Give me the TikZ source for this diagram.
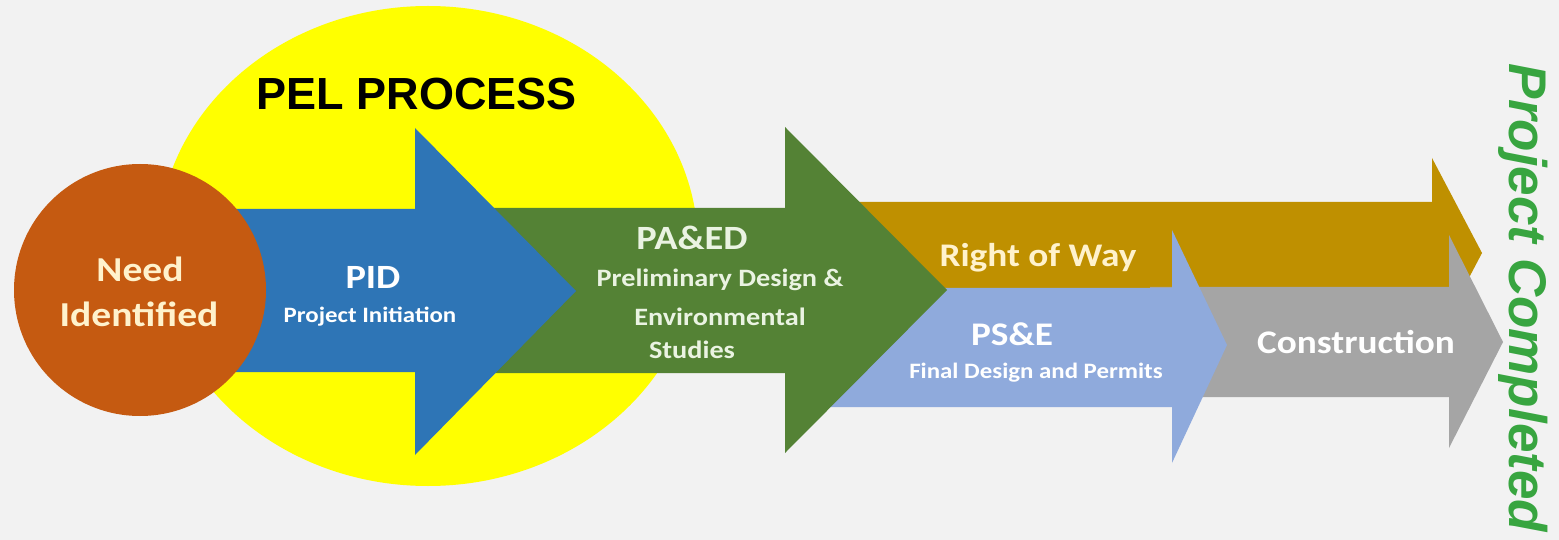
\documentclass[tikz,border=0pt]{standalone}
\usepackage{fontspec}
\newfontfamily\calfont[FakeStretch=1.13]{Carlito}
\newfontfamily\arlfont{Liberation Sans}
\definecolor{bg}{HTML}{F2F2F2}
\definecolor{yel}{HTML}{FFFF00}
\definecolor{org}{HTML}{C55A11}
\definecolor{blu}{HTML}{2E75B6}
\definecolor{grn}{HTML}{548235}
\definecolor{gld}{HTML}{BF9000}
\definecolor{ltblue}{HTML}{8FAADC}
\definecolor{gry}{HTML}{A5A5A5}
\definecolor{pcg}{HTML}{38A540}
\definecolor{cream}{HTML}{FFF2CC}
\definecolor{palegrn}{HTML}{EAF3E2}
\begin{document}
\begin{tikzpicture}[x=1pt,y=-1pt,
  txt/.style={anchor=base,inner sep=0pt,font=\calfont\bfseries}]
\fill[bg] (0,0) rectangle (1559,540);
\useasboundingbox (0,0) rectangle (1559,540);
% yellow PEL ellipse
\fill[yel] (428,246) ellipse [x radius=270, y radius=240];
% arrows (back to front)
\fill[gld] (840,202) -- (1432,202) -- (1432,158) -- (1482,253) -- (1432,348) -- (1432,304) -- (840,304) -- cycle;
\fill[gry] (1150,287) -- (1449,287) -- (1449,235) -- (1503,342) -- (1449,448) -- (1449,397) -- (1150,397) -- cycle;
\fill[ltblue] (820,288) -- (1172,288) -- (1172,230) -- (1227,345) -- (1172,463) -- (1172,407) -- (820,407) -- cycle;
\fill[grn] (480,208) -- (785,208) -- (785,127) -- (947,290) -- (785,453) -- (785,373) -- (480,373) -- cycle;
\fill[blu] (230,209) -- (415,209) -- (415,128) -- (576,291) -- (415,455) -- (415,372) -- (230,372) -- cycle;
\fill[org] (140,290) circle [radius=126];
% texts
\node[anchor=base,inner sep=0pt,font=\arlfont\bfseries\fontsize{45}{45}\selectfont] (pel) at (417,110) {PEL PROCESS};
\node[txt,text=cream,font=\calfont\bfseries\fontsize{35}{35}\selectfont] (need) at (140,281) {Need};
\node[txt,text=cream,font=\calfont\bfseries\fontsize{35}{35}\selectfont] (ident) at (139,326) {Identified};
\node[txt,text=white,font=\calfont\bfseries\fontsize{34}{34}\selectfont] (pid) at (373,288) {PID};
\node[txt,text=white,font=\calfont\bfseries\fontsize{22}{22}\selectfont] (pidsub) at (370,322) {Project Initiation};
\node[txt,text=palegrn,font=\calfont\bfseries\fontsize{34}{34}\selectfont] (paed) at (692,250) {PA\&ED};
\node[txt,text=palegrn,font=\calfont\bfseries\fontsize{25}{25}\selectfont] (paed1) at (720,287) {Preliminary Design \&};
\node[txt,text=palegrn,font=\calfont\bfseries\fontsize{25}{25}\selectfont] (paed2) at (720,325) {Environmental};
\node[txt,text=palegrn,font=\calfont\bfseries\fontsize{25}{25}\selectfont] (paed3) at (692,358) {Studies};
\node[txt,text=cream,font=\calfont\bfseries\fontsize{33}{33}\selectfont] (row) at (1038,267) {Right of Way};
\node[txt,text=white,font=\calfont\bfseries\fontsize{33}{33}\selectfont] (pse) at (1012,345) {PS\&E};
\node[txt,text=white,font=\calfont\bfseries\fontsize{22}{22}\selectfont] (psesub) at (1036,378) {Final Design and Permits};
\node[txt,text=white,font=\calfont\bfseries\fontsize{33}{33}\selectfont] (cons) at (1356,353) {Construction};
\node[anchor=base,inner sep=0pt,rotate=-90,text=pcg,font=\arlfont\bfseries\itshape\fontsize{53}{53}\selectfont] (done) at (1509,298) {Project Completed};
\end{tikzpicture}
\end{document}
